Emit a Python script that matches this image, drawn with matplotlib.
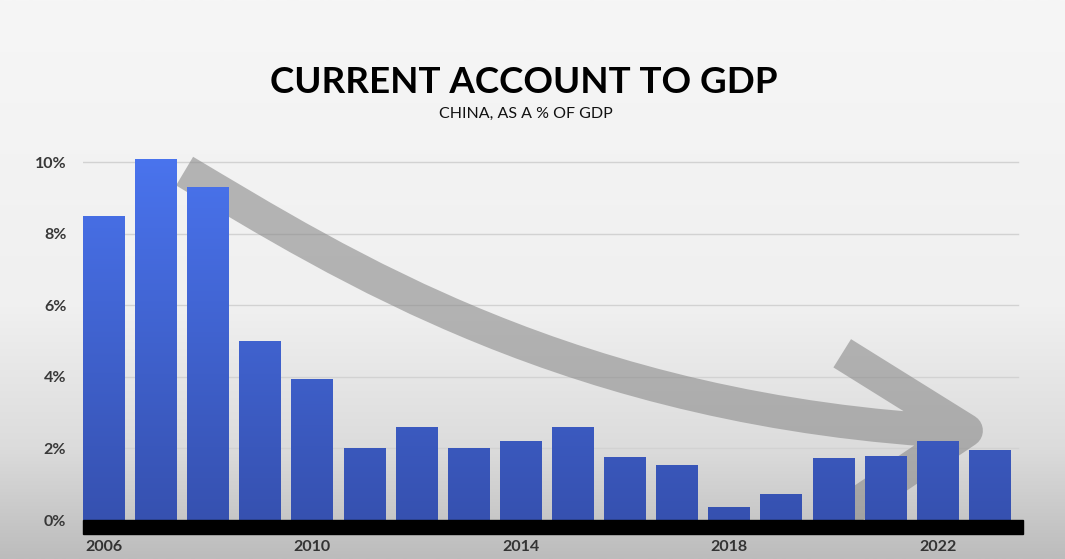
import numpy as np
import matplotlib
matplotlib.use("Agg")
import matplotlib.pyplot as plt
from matplotlib.path import Path
from matplotlib.patches import PathPatch, Rectangle
from matplotlib.colors import LinearSegmentedColormap

# data
years = np.arange(2006, 2024)
ca_gdp = [8.5, 10.1, 9.3, 5.0, 3.95, 2.0, 2.6, 2.0, 2.2, 2.6,
          1.75, 1.55, 0.37, 0.72, 1.72, 1.8, 2.2, 1.97]
y_ticks = [0, 2, 4, 6, 8, 10]
y_labels = ["0%", "2%", "4%", "6%", "8%", "10%"]
x_ticks = [2006, 2010, 2014, 2018, 2022]

plt.rcParams['font.family'] = ['Lato', 'DejaVu Sans']

fig = plt.figure(figsize=(10.65, 5.59), dpi=100)

# background gradient
bg = fig.add_axes([0, 0, 1, 1], zorder=-10)
bg_cmap = LinearSegmentedColormap.from_list(
    "bg", [(0, "#f6f6f6"), (0.55, "#f0f0f0"), (0.8, "#dcdcdc"), (1, "#bcbcbc")])
bg.imshow(np.linspace(0, 1, 256).reshape(-1, 1), aspect="auto", cmap=bg_cmap,
          extent=[0, 1, 1, 0])
bg.set_xlim(0, 1)
bg.set_ylim(1, 0)
bg.axis("off")

ax = fig.add_axes([0.0779, 0.0447, 0.8827, 0.678])
ax.set_facecolor("none")

# gridlines
for yt in y_ticks[1:]:
    ax.plot([2005.6, 2023.55], [yt, yt], color="#d2d2d2", lw=1, zorder=0)

# big curved arrow behind the bars
verts = [(2007.55, 9.75), (2010.5, 7.2), (2015.0, 3.0), (2022.5, 2.46),
         (2020.17, 4.66), (2022.55, 2.5), (2020.25, 0.25)]
codes = [Path.MOVETO, Path.CURVE4, Path.CURVE4, Path.CURVE4,
         Path.MOVETO, Path.LINETO, Path.LINETO]
arrow = PathPatch(Path(verts, codes), facecolor="none", edgecolor="#8a8a8a",
                  lw=24, alpha=0.6, capstyle="butt", joinstyle="round", zorder=1)
ax.add_patch(arrow)

# bars with vertical gradient
bar_cmap = LinearSegmentedColormap.from_list("bars", ["#3651b0", "#4a74ee"])
bars = ax.bar(years, ca_gdp, width=0.8, color="#4169e1", zorder=2)
grad = np.linspace(0, 1, 256).reshape(-1, 1)
for b in bars:
    im = ax.imshow(grad, aspect="auto", cmap=bar_cmap, origin="lower",
                   extent=[2005.6, 2023.64, 0, 10.2], zorder=2.5)
    im.set_clip_path(b)
ax.set_xlim(2005.6, 2023.64)
ax.set_ylim(-0.39, 10.2)

# black baseline band
ax.add_patch(Rectangle((2005.6, -0.39), 18.04, 0.39, color="black", zorder=3,
                       clip_on=False))

for s in ax.spines.values():
    s.set_visible(False)
ax.tick_params(length=0)
ax.set_yticks(y_ticks)
ax.set_yticklabels(y_labels, fontsize=11.5, fontweight="bold", color="#383838")
ax.tick_params(axis="y", pad=12)
ax.set_xticks(x_ticks)
ax.set_xticklabels([str(x) for x in x_ticks], fontsize=11.5, fontweight="bold",
                   color="#333333")
ax.tick_params(axis="x", pad=4)

fig.text(0.492, 0.852, "CURRENT ACCOUNT TO GDP", ha="center", va="center",
         fontsize=26.5, fontweight="bold", color="black")
fig.text(0.494, 0.797, "CHINA, AS A % OF GDP", ha="center", va="center",
         fontsize=11.5, color="#111111")

fig.savefig("out.png", dpi=100)
